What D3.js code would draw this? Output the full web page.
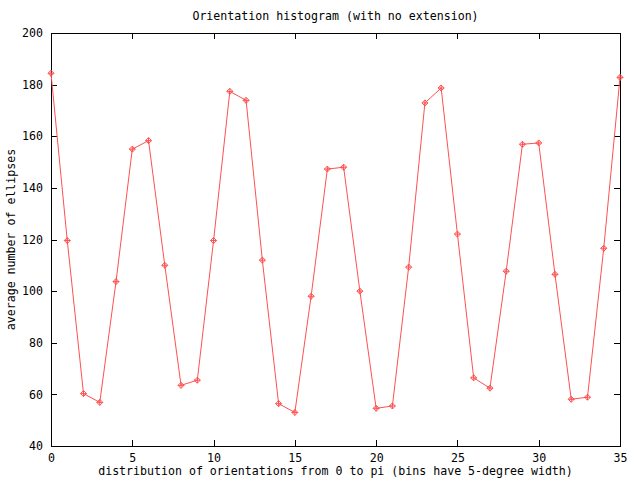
<!DOCTYPE html>
<html>
<head>
<meta charset="utf-8">
<script src="https://cdn.jsdelivr.net/npm/d3@7"></script>
<style>
  html, body { margin: 0; padding: 0; background: #fff; }
  svg text { font-family: "DejaVu Sans Mono", "Liberation Mono", monospace; font-size: 11.6px; fill: #000; }
</style>
</head>
<body>
<svg id="chart" width="640" height="480"></svg>
<script>
// ---- data ----
const bins = d3.range(0, 36);
const counts = [184.4, 119.6, 60.3, 56.9, 103.7, 155.0, 158.3, 110.0, 63.5, 65.5,
                119.6, 177.4, 173.9, 112.0, 56.4, 53.0, 98.0, 147.3, 148.0, 100.0,
                54.6, 55.5, 109.3, 172.9, 178.7, 122.1, 66.4, 62.4, 107.7, 156.9,
                157.4, 106.5, 58.1, 58.9, 116.6, 182.8];
const xTicks = [0, 5, 10, 15, 20, 25, 30, 35];
const yTicks = [40, 60, 80, 100, 120, 140, 160, 180, 200];
const titleText = "Orientation histogram (with no extension)";
const xLabel = "distribution of orientations from 0 to pi (bins have 5-degree width)";
const yLabel = "average number of ellipses";

// ---- layout ----
const L = 51, R = 620, T = 33, B = 446;
const svg = d3.select("#chart");
const x = d3.scaleLinear().domain([0, 35]).range([L, R]);
const y = d3.scaleLinear().domain([40, 200]).range([B, T]);
const tk = 6;

// axes (ticks inward, mirrored)
const axB = svg.append("g").attr("transform", `translate(0,${B})`)
  .call(d3.axisBottom(x).tickValues(xTicks).tickSizeInner(-tk).tickSizeOuter(0).tickPadding(12).tickFormat(d3.format("d")));
const axT = svg.append("g").attr("transform", `translate(0,${T})`)
  .call(d3.axisTop(x).tickValues(xTicks).tickSizeInner(-tk).tickSizeOuter(0).tickFormat(""));
const axL = svg.append("g").attr("transform", `translate(${L},0)`)
  .call(d3.axisLeft(y).tickValues(yTicks).tickSizeInner(-tk).tickSizeOuter(0).tickPadding(15).tickFormat(d3.format("d")));
const axR = svg.append("g").attr("transform", `translate(${R},0)`)
  .call(d3.axisRight(y).tickValues(yTicks).tickSizeInner(-tk).tickSizeOuter(0).tickFormat(""));
[axB, axT, axL, axR].forEach(g => {
  g.select(".domain").remove();
  g.selectAll("line").attr("stroke", "#000").attr("shape-rendering", "crispEdges");
  g.selectAll("text").attr("font-family", null).attr("font-size", null);
});
axB.selectAll("text").attr("dy", "0.71em").attr("y", 8);
axL.selectAll("text").attr("x", -8);

// border
svg.append("rect").attr("x", L).attr("y", T).attr("width", R - L).attr("height", B - T)
  .attr("fill", "none").attr("stroke", "#000").attr("shape-rendering", "crispEdges");

// line
const line = d3.line().x((d, i) => x(bins[i])).y(d => y(d));
svg.append("path").datum(counts).attr("d", line)
  .attr("fill", "none").attr("stroke", "#ff5050").attr("stroke-width", 1);

// markers: diamond with cross
const mk = svg.append("g").attr("stroke", "#ff5050").attr("fill", "none").attr("stroke-width", 1);
counts.forEach((v, i) => {
  const cx = x(bins[i]), cy = y(v), r = 3;
  mk.append("path").attr("d", `M${cx - r},${cy}L${cx},${cy - r}L${cx + r},${cy}L${cx},${cy + r}Z M${cx - r},${cy}H${cx + r} M${cx},${cy - r}V${cy + r}`);
});

// labels
svg.append("text").attr("x", (L + R) / 2).attr("y", 20).attr("text-anchor", "middle").text(titleText);
svg.append("text").attr("x", (L + R) / 2).attr("y", 475).attr("text-anchor", "middle").text(xLabel);
svg.append("text").attr("transform", `translate(15,${(T + B) / 2}) rotate(-90)`).attr("text-anchor", "middle").text(yLabel);
</script>
</body>
</html>
